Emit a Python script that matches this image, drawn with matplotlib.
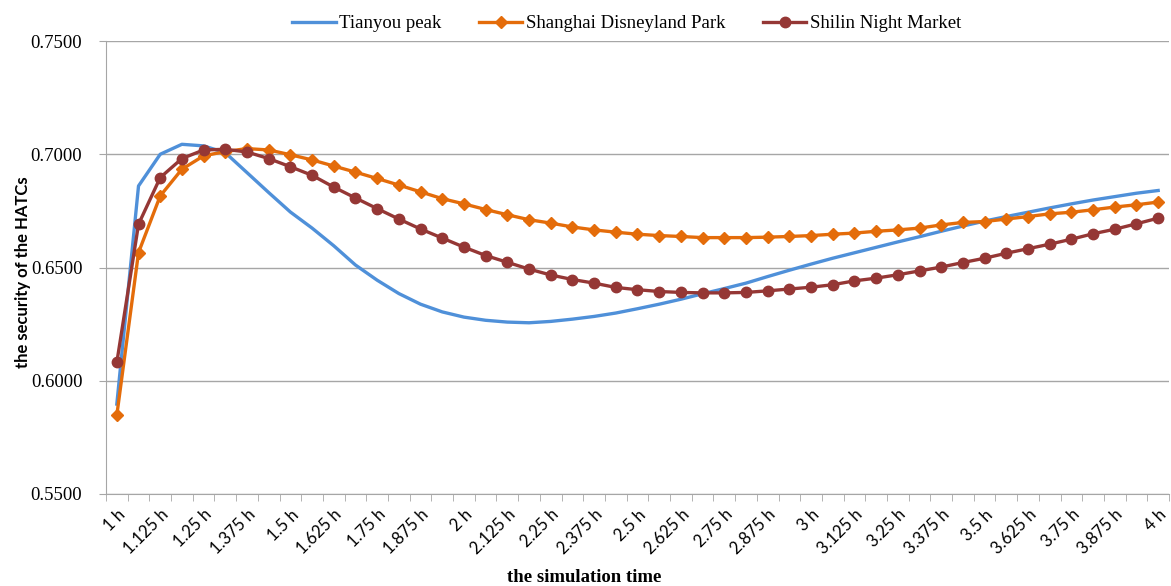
import matplotlib.pyplot as plt
from matplotlib.ticker import FormatStrFormatter, MultipleLocator

# tick labels shown on the x axis (every other simulated time step)
time_labels = ["1 h", "1.125 h", "1.25 h", "1.375 h", "1.5 h", "1.625 h", "1.75 h",
               "1.875 h", "2 h", "2.125 h", "2.25 h", "2.375 h", "2.5 h", "2.625 h",
               "2.75 h", "2.875 h", "3 h", "3.125 h", "3.25 h", "3.375 h", "3.5 h",
               "3.625 h", "3.75 h", "3.875 h", "4 h"]

tianyou = [0.5897, 0.6860, 0.7000, 0.7044, 0.7037, 0.7007, 0.6919, 0.6831, 0.6745,
           0.6674, 0.6596, 0.6511, 0.6444, 0.6385, 0.6338, 0.6304, 0.6281, 0.6267,
           0.6259, 0.6256, 0.6262, 0.6272, 0.6284, 0.6299, 0.6318, 0.6338, 0.6360,
           0.6384, 0.6407, 0.6431, 0.6460, 0.6488, 0.6515, 0.6541, 0.6565, 0.6589,
           0.6613, 0.6636, 0.6660, 0.6683, 0.6705, 0.6725, 0.6744, 0.6763, 0.6781,
           0.6798, 0.6813, 0.6828, 0.6840]

disney = [0.5848, 0.6566, 0.6816, 0.6934, 0.6993, 0.7012, 0.7025, 0.7019, 0.6998,
          0.6975, 0.6948, 0.6921, 0.6893, 0.6864, 0.6834, 0.6804, 0.6781, 0.6756,
          0.6733, 0.6711, 0.6696, 0.6679, 0.6666, 0.6656, 0.6647, 0.6641, 0.6637,
          0.6632, 0.6632, 0.6632, 0.6634, 0.6637, 0.6641, 0.6647, 0.6652, 0.6660,
          0.6666, 0.6674, 0.6688, 0.6699, 0.6703, 0.6714, 0.6725, 0.6737, 0.6744,
          0.6755, 0.6767, 0.6777, 0.6789]

shilin = [0.6081, 0.6691, 0.6897, 0.6981, 0.7019, 0.7022, 0.7010, 0.6981, 0.6945,
          0.6907, 0.6855, 0.6807, 0.6760, 0.6714, 0.6670, 0.6630, 0.6590, 0.6553,
          0.6523, 0.6493, 0.6467, 0.6447, 0.6431, 0.6412, 0.6402, 0.6394, 0.6390,
          0.6388, 0.6388, 0.6390, 0.6397, 0.6405, 0.6413, 0.6424, 0.6441, 0.6453,
          0.6468, 0.6485, 0.6502, 0.6522, 0.6541, 0.6563, 0.6583, 0.6603, 0.6625,
          0.6649, 0.6669, 0.6693, 0.6718]

serif = "Liberation Serif"
sans = "Lato"
grid_color = "#A6A6A6"

fig = plt.figure(figsize=(11.71, 5.86), dpi=100)
ax = fig.add_axes([0.0905, 0.157, 0.9078, 0.773])

x = list(range(len(tianyou)))
ax.plot(x, tianyou, color="#4F90D9", linewidth=2.4, label="Tianyou peak")
ax.plot(x, disney, color="#E46C0A", linewidth=2.4, marker="D", markersize=6,
        label="Shanghai Disneyland Park")
ax.plot(x, shilin, color="#953735", linewidth=2.4, marker="o", markersize=7.5,
        label="Shilin Night Market")

ax.set_ylim(0.55, 0.75)
ax.set_xlim(-0.5, len(x) - 0.5)
ax.yaxis.set_major_locator(MultipleLocator(0.05))
ax.yaxis.set_major_formatter(FormatStrFormatter("%.4f"))
ax.grid(axis="y", color=grid_color, linewidth=1)
ax.set_axisbelow(True)

ax.set_xticks(x[::2])
ax.set_xticklabels(time_labels, rotation=45, ha="right", rotation_mode="anchor",
                   fontfamily=sans, fontsize=12)
ax.set_xticks([i - 0.5 for i in range(len(x) + 1)], minor=True)
ax.tick_params(axis="x", which="major", length=0, pad=9)
ax.tick_params(axis="x", which="minor", length=5, color=grid_color)
ax.tick_params(axis="y", length=5, color=grid_color, labelsize=13.5, pad=12)
for lbl in ax.get_yticklabels():
    lbl.set_fontfamily(serif)

for side in ["top", "right"]:
    ax.spines[side].set_visible(False)
for side in ["left", "bottom"]:
    ax.spines[side].set_color(grid_color)

ax.set_xlabel("the simulation time", fontfamily=serif, fontweight="bold", fontsize=13.5)
ax.xaxis.set_label_coords(0.45, -0.165)
fig.text(0.020, 0.535, "the security of the HATCs", rotation=90, ha="center", va="center",
         fontfamily=sans, fontweight="bold", fontsize=12)

ax.legend(loc="center", bbox_to_anchor=(0.49, 1.038), ncol=3, frameon=False,
          prop={"family": serif, "size": 13.5}, handlelength=2.3, handletextpad=0.2,
          columnspacing=2.0)

plt.savefig("out.png", dpi=100)
